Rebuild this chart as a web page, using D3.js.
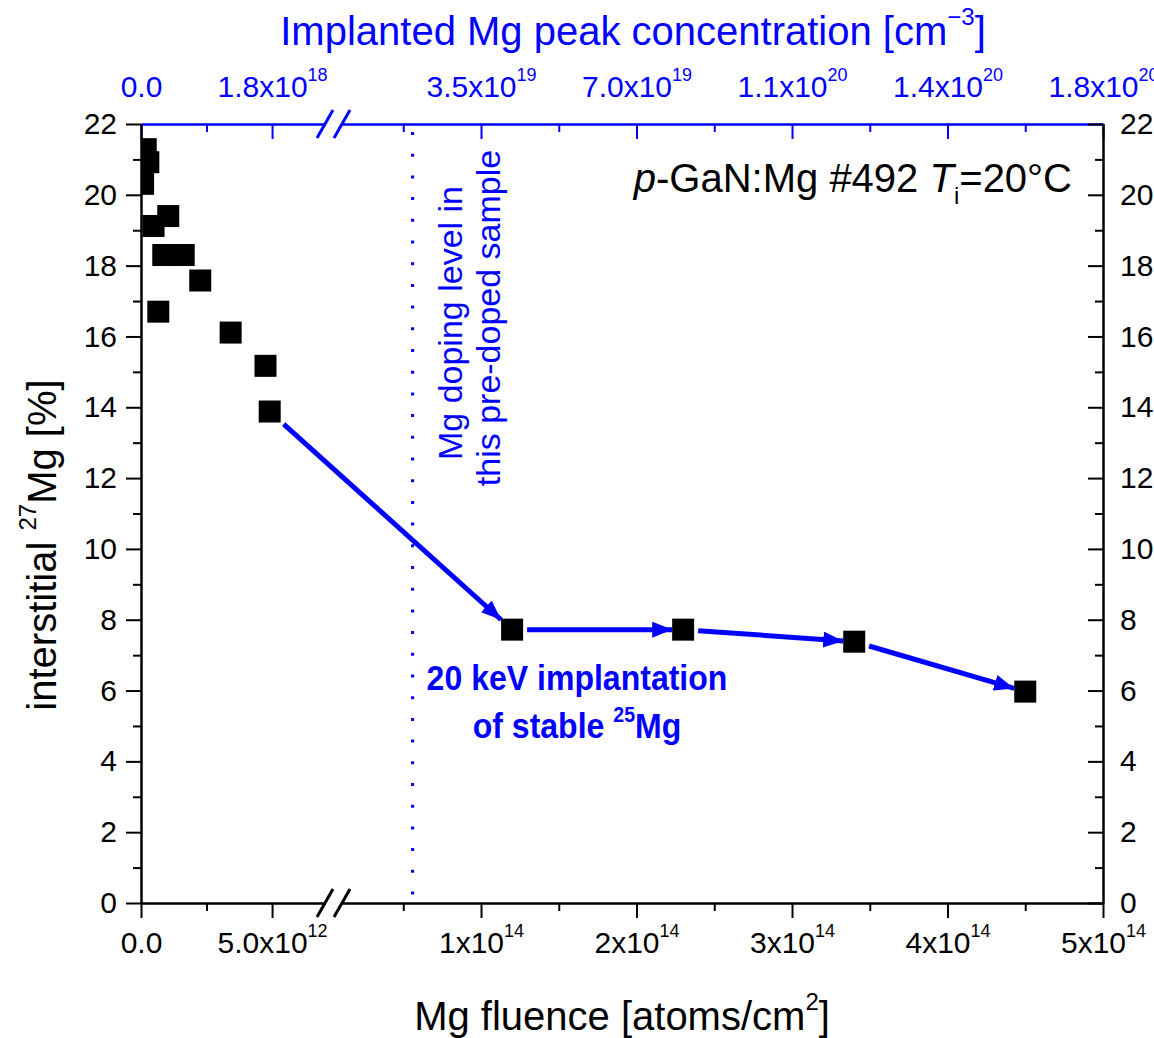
<!DOCTYPE html>
<html>
<head>
<meta charset="utf-8">
<script src="https://cdn.jsdelivr.net/npm/d3@7"></script>
<style>
  body { margin: 0; background: #fff; }
  svg text { font-family: "Liberation Sans", Arial, sans-serif; }
</style>
</head>
<body>
<div id="chart"></div>
<script>
// Data
const fluenceLow = [0.18e12, 0.28e12, 0.08e12, 1.04e12, 0.48e12, 0.85e12, 1.63e12, 2.26e12, 0.66e12, 3.42e12, 4.75e12, 4.91e12];
const interstitialLow = [21.29, 20.92, 20.31, 19.40, 19.12, 18.30, 18.30, 17.58, 16.70, 16.11, 15.17, 13.88];
const fluenceHigh = [1.2e14, 2.3e14, 3.4e14, 4.5e14];
const interstitialHigh = [7.72, 7.72, 7.38, 5.97];
const dopingFluence = 0.56e14;

// Tick values and labels
const yTicks = [0, 2, 4, 6, 8, 10, 12, 14, 16, 18, 20, 22];
const yMinor = [1, 3, 5, 7, 9, 11, 13, 15, 17, 19, 21];
const lowTicks = [0, 5e12];
const lowMinor = [2.5e12];
const highTicks = [1e14, 2e14, 3e14, 4e14, 5e14];
const highMinor = [0.5e14, 1.5e14, 2.5e14, 3.5e14, 4.5e14];
const bottomLowLabels = ["0.0", "5.0x10^12"];
const bottomHighLabels = ["1x10^14", "2x10^14", "3x10^14", "4x10^14", "5x10^14"];
const topLowLabels = ["0.0", "1.8x10^18"];
const topHighLabels = ["3.5x10^19", "7.0x10^19", "1.1x10^20", "1.4x10^20", "1.8x10^20"];

const W = 1154, H = 1038;
const blue = "#0000ff";
const plotLeft = 141, plotRight = 1103, plotTop = 124, plotBottom = 903;

const svg = d3.select("#chart").append("svg")
    .attr("width", W)
    .attr("height", H);

// Scales (broken x axis: two segments)
const xLow = d3.scaleLinear().domain([0, 7.02e12]).range([plotLeft, 325]);
const xHigh = d3.scaleLinear().domain([0.106e14, 5e14]).range([342, plotRight]);
const y = d3.scaleLinear().domain([0, 22]).range([plotBottom, plotTop]);

// write "a^b" labels with superscripts
function supLabels(sel, labels, ticks) {
    sel.selectAll(".tick text").each(function(d) {
        const i = ticks.indexOf(d);
        const parts = labels[i].split("^");
        const t = d3.select(this).text(null);
        t.append("tspan").text(parts[0]);
        if (parts[1]) {
            t.append("tspan").attr("dy", -16).style("font-size", "18px").text(parts[1]);
        }
    });
}

function styleAxis(g, color) {
    g.selectAll("path, line").attr("stroke", color).attr("stroke-width", 2);
    g.selectAll("text").attr("fill", color).style("font-size", "30px")
        .style("font-family", "'Liberation Sans', Arial, sans-serif");
}

// Bottom axis segments
[[xLow, lowTicks, lowMinor, bottomLowLabels], [xHigh, highTicks, highMinor, bottomHighLabels]].forEach(([sc, tk, mn, lb]) => {
    const g = svg.append("g").attr("transform", `translate(0,${plotBottom})`)
        .call(d3.axisBottom(sc).tickValues(tk).tickSize(15).tickSizeOuter(0).tickPadding(14));
    styleAxis(g, "#000");
    supLabels(g, lb, tk);
    const gm = svg.append("g").attr("transform", `translate(0,${plotBottom})`)
        .call(d3.axisBottom(sc).tickValues(mn).tickSize(8).tickSizeOuter(0).tickFormat(""));
    styleAxis(gm, "#000");
});

// Top axis segments (ticks inward)
[[xLow, lowTicks, lowMinor, topLowLabels], [xHigh, highTicks, highMinor, topHighLabels]].forEach(([sc, tk, mn, lb]) => {
    const g = svg.append("g").attr("transform", `translate(0,${plotTop})`)
        .call(d3.axisTop(sc).tickValues(tk).tickSizeInner(-15).tickSizeOuter(0).tickPadding(27));
    styleAxis(g, blue);
    supLabels(g, lb, tk);
    const gm = svg.append("g").attr("transform", `translate(0,${plotTop})`)
        .call(d3.axisTop(sc).tickValues(mn).tickSizeInner(-8).tickSizeOuter(0).tickFormat(""));
    styleAxis(gm, blue);
});

// Left axis
const gl = svg.append("g").attr("transform", `translate(${plotLeft},0)`)
    .call(d3.axisLeft(y).tickValues(yTicks).tickSize(15).tickSizeOuter(0).tickPadding(9));
styleAxis(gl, "#000");
const glm = svg.append("g").attr("transform", `translate(${plotLeft},0)`)
    .call(d3.axisLeft(y).tickValues(yMinor).tickSize(8).tickSizeOuter(0).tickFormat(""));
styleAxis(glm, "#000");

// Right axis (ticks inward)
const gr = svg.append("g").attr("transform", `translate(${plotRight},0)`)
    .call(d3.axisRight(y).tickValues(yTicks).tickSizeInner(-15).tickSizeOuter(0).tickPadding(17));
styleAxis(gr, "#000");
const grm = svg.append("g").attr("transform", `translate(${plotRight},0)`)
    .call(d3.axisRight(y).tickValues(yMinor).tickSizeInner(-8).tickSizeOuter(0).tickFormat(""));
styleAxis(grm, "#000");

// Axis break marks
[[plotTop, blue], [plotBottom, "#000"]].forEach(([yy, c]) => {
    [xLow.range()[1], xHigh.range()[0]].forEach(cx => {
        svg.append("line")
            .attr("x1", cx - 8).attr("y1", yy + 14)
            .attr("x2", cx + 8).attr("y2", yy - 14)
            .attr("stroke", c).attr("stroke-width", 3);
    });
});

// Doping level dotted line
svg.append("line")
    .attr("x1", xHigh(dopingFluence)).attr("x2", xHigh(dopingFluence))
    .attr("y1", y(22) + 8).attr("y2", y(0) - 4)
    .attr("stroke", blue).attr("stroke-width", 3)
    .attr("stroke-dasharray", "3 18.7");

// Arrows from the last low point through the implanted points
const defs = svg.append("defs");
defs.append("marker")
    .attr("id", "arrow")
    .attr("markerUnits", "userSpaceOnUse")
    .attr("viewBox", "0 0 20 16")
    .attr("markerWidth", 20).attr("markerHeight", 16)
    .attr("refX", 20).attr("refY", 8)
    .attr("orient", "auto")
    .append("path").attr("d", "M0,0 L20,8 L0,16 Z").attr("fill", blue);

defs.append("clipPath").attr("id", "plotClip")
    .append("rect").attr("x", plotLeft).attr("y", plotTop)
    .attr("width", plotRight - plotLeft).attr("height", plotBottom - plotTop);

const pts = [[xLow(fluenceLow[fluenceLow.length - 1]), y(interstitialLow[interstitialLow.length - 1])]]
    .concat(fluenceHigh.map((f, i) => [xHigh(f), y(interstitialHigh[i])]));
const half = 11;
for (let i = 0; i < pts.length - 1; i++) {
    const [x0, y0] = pts[i], [x1, y1] = pts[i + 1];
    const dx = x1 - x0, dy = y1 - y0, len = Math.hypot(dx, dy);
    const ux = dx / len, uy = dy / len;
    const edge = half / Math.max(Math.abs(ux), Math.abs(uy));
    svg.append("line")
        .attr("x1", x0 + ux * (edge + 4)).attr("y1", y0 + uy * (edge + 4))
        .attr("x2", x1 - ux * edge).attr("y2", y1 - uy * edge)
        .attr("stroke", blue).attr("stroke-width", 5)
        .attr("marker-end", "url(#arrow)");
}

// Squares
const sq = svg.append("g").attr("clip-path", "url(#plotClip)");
sq.selectAll("rect.low")
    .data(fluenceLow.map((f, i) => [f, interstitialLow[i]]))
    .enter().append("rect")
    .attr("class", "low")
    .attr("x", d => xLow(d[0]) - half).attr("y", d => y(d[1]) - half)
    .attr("width", 2 * half).attr("height", 2 * half)
    .attr("fill", "#000");
sq.selectAll("rect.high")
    .data(fluenceHigh.map((f, i) => [f, interstitialHigh[i]]))
    .enter().append("rect")
    .attr("class", "high")
    .attr("x", d => xHigh(d[0]) - half).attr("y", d => y(d[1]) - half)
    .attr("width", 2 * half).attr("height", 2 * half)
    .attr("fill", "#000");

// Axis titles
const topTitle = svg.append("text")
    .attr("x", 633).attr("y", 45)
    .attr("text-anchor", "middle")
    .attr("fill", blue)
    .style("font-size", "40px");
topTitle.append("tspan").text("Implanted Mg peak concentration [cm");
topTitle.append("tspan").attr("dy", -20).style("font-size", "24px").text("\u22123");
topTitle.append("tspan").attr("dy", 20).text("]");

const xTitle = svg.append("text")
    .attr("x", 622).attr("y", 1030)
    .attr("text-anchor", "middle")
    .style("font-size", "40px");
xTitle.append("tspan").text("Mg fluence [atoms/cm");
xTitle.append("tspan").attr("dy", -20).style("font-size", "24px").text("2");
xTitle.append("tspan").attr("dy", 20).text("]");

const yTitle = svg.append("text")
    .attr("transform", "translate(56,545) rotate(-90)")
    .attr("text-anchor", "middle")
    .style("font-size", "40px");
yTitle.append("tspan").text("interstitial ");
yTitle.append("tspan").attr("dy", -20).style("font-size", "24px").text("27");
yTitle.append("tspan").attr("dy", 20).text("Mg [%]");

// Annotations
const sample = svg.append("text")
    .attr("x", 1072).attr("y", 192)
    .attr("text-anchor", "end")
    .style("font-size", "40px");
sample.append("tspan").style("font-style", "italic").text("p");
sample.append("tspan").text("-GaN:Mg #492 ");
sample.append("tspan").style("font-style", "italic").text("T");
sample.append("tspan").attr("dy", 12).style("font-size", "24px").text("i");
sample.append("tspan").attr("dy", -12).text("=20\u00b0C");

svg.append("text")
    .attr("transform", "translate(462,323) rotate(-90)")
    .attr("text-anchor", "middle")
    .attr("fill", blue)
    .style("font-size", "34px")
    .text("Mg doping level in");
svg.append("text")
    .attr("transform", "translate(500,318) rotate(-90)")
    .attr("text-anchor", "middle")
    .attr("fill", blue)
    .style("font-size", "34px")
    .text("this pre-doped sample");

svg.append("text")
    .attr("transform", "translate(577,690) scale(0.89,1)")
    .attr("text-anchor", "middle")
    .attr("fill", blue)
    .style("font-size", "36px").style("font-weight", "bold")
    .text("20 keV implantation");
const stable = svg.append("text")
    .attr("transform", "translate(577,738) scale(0.89,1)")
    .attr("text-anchor", "middle")
    .attr("fill", blue)
    .style("font-size", "36px").style("font-weight", "bold");
stable.append("tspan").text("of stable ");
stable.append("tspan").attr("dy", -16).style("font-size", "22px").text("25");
stable.append("tspan").attr("dy", 16).text("Mg");
</script>
</body>
</html>
